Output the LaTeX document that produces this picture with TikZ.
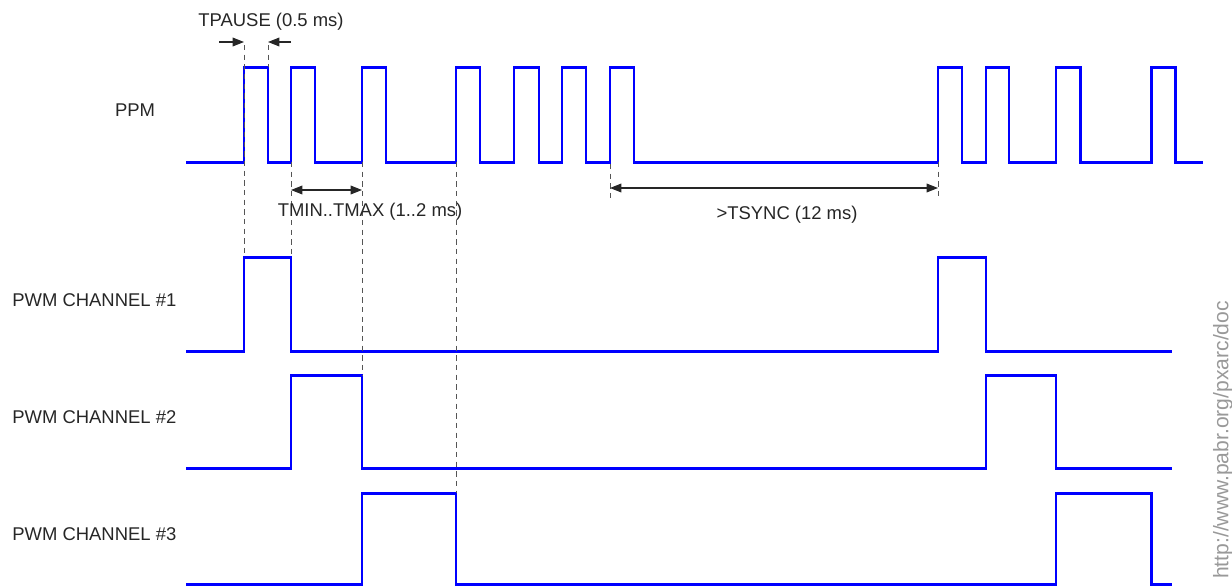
\documentclass[tikz,border=0pt]{standalone}
\usepackage{fontspec}
\setmainfont{Liberation Sans}
\usepackage{tikz}
\usetikzlibrary{arrows.meta,positioning}

\begin{document}
\begin{tikzpicture}[x=0.02cm, y=-0.02cm,
    every node/.style={font=\fontsize{10.5}{12}\selectfont, text=black!85}]
    \definecolor{sigblue}{HTML}{0000FF}
    \definecolor{guidegray}{HTML}{555555}
    \tikzset{
      sig/.style={sigblue, line width=1.7pt},
      guide/.style={guidegray, line width=0.5pt, dash pattern=on 3pt off 2.5pt},
      dim/.style={black!85, line width=0.6pt},
      tip/.style={-{Triangle[length=6.5pt,width=5pt]}},
      tips/.style={{Triangle[length=6.5pt,width=5pt]}-{Triangle[length=6.5pt,width=5pt]}},
    }
    \useasboundingbox (0,0) rectangle (1232,586);

    % =================== PPM train ===================
    \pgfmathsetmacro{\pL}{162}
    \pgfmathsetmacro{\pH}{67}
    \node (ppm) at (135,110) {PPM};
    \draw[sig] (186,\pL)
      \foreach \a/\b in {244/268,291/315,362/386,456/480,514/539,562/586,
                         610/634,938/962,986/1009,1056/1080,1151/1175}{
        -- (\a,\pL) -- (\a,\pH) -- (\b,\pH) -- (\b,\pL)
      } -- (1203,\pL);

    % =================== PWM channels ===================
    \foreach \lo/\hi/\ra/\fa/\rb/\fb/\nm/\k in {351/257/244/291/938/986/pwma/1,
                                                468/375/291/362/986/1056/pwmb/2,
                                                584/493/362/456/1056/1151/pwmc/3}{
      \draw[sig] (186,\lo) -- (\ra,\lo) -- (\ra,\hi) -- (\fa,\hi) -- (\fa,\lo)
        -- (\rb,\lo) -- (\rb,\hi) -- (\fb,\hi) -- (\fb,\lo) -- (1172,\lo);
      \node[anchor=west, inner xsep=0pt] (\nm) at (12,{(\lo+\hi)/2-4}) {PWM CHANNEL \#\k};
    }

    % dashed guides
    \draw[guide] (244,45) -- (244,257);
    \draw[guide] (268,45) -- (268,67);
    \draw[guide] (291,162) -- (291,257);
    \draw[guide] (362,162) -- (362,375);
    \draw[guide] (456,162) -- (456,493);
    \draw[guide] (610,164) -- (610,200);
    \draw[guide] (938,162) -- (938,198);

    % =================== timing marks ===================
    % pause
    \coordinate (pauseA) at (244,42);
    \coordinate (pauseB) at (268,42);
    \coordinate (pauseAout) at (219,42);
    \coordinate (pauseBout) at (291,42);
    \draw[dim, tip] (pauseAout) -- (pauseA);
    \draw[dim, tip] (pauseBout) -- (pauseB);
    \node (tpause) at (271,22) {TPAUSE (0.5 ms)};

    % channel width
    \coordinate (tminA) at (291,190);
    \coordinate (tminB) at (362,190);
    \draw[dim, tips] (tminA) -- (tminB);
    \node (tmin) at (370,212) {TMIN..TMAX (1..2 ms)};

    % sync gap
    \coordinate (syncA) at (610,188);
    \coordinate (syncB) at (938,188);
    \draw[dim, tips] (syncA) -- (syncB);
    \node (tsync) at (787,215) {>TSYNC (12 ms)};

    % source url
    \node[rotate=90, text=black!40, font=\fontsize{12}{14}\selectfont]
      (url) at (1223,440) {http://www.pabr.org/pxarc/doc};
  \end{tikzpicture}
\end{document}
